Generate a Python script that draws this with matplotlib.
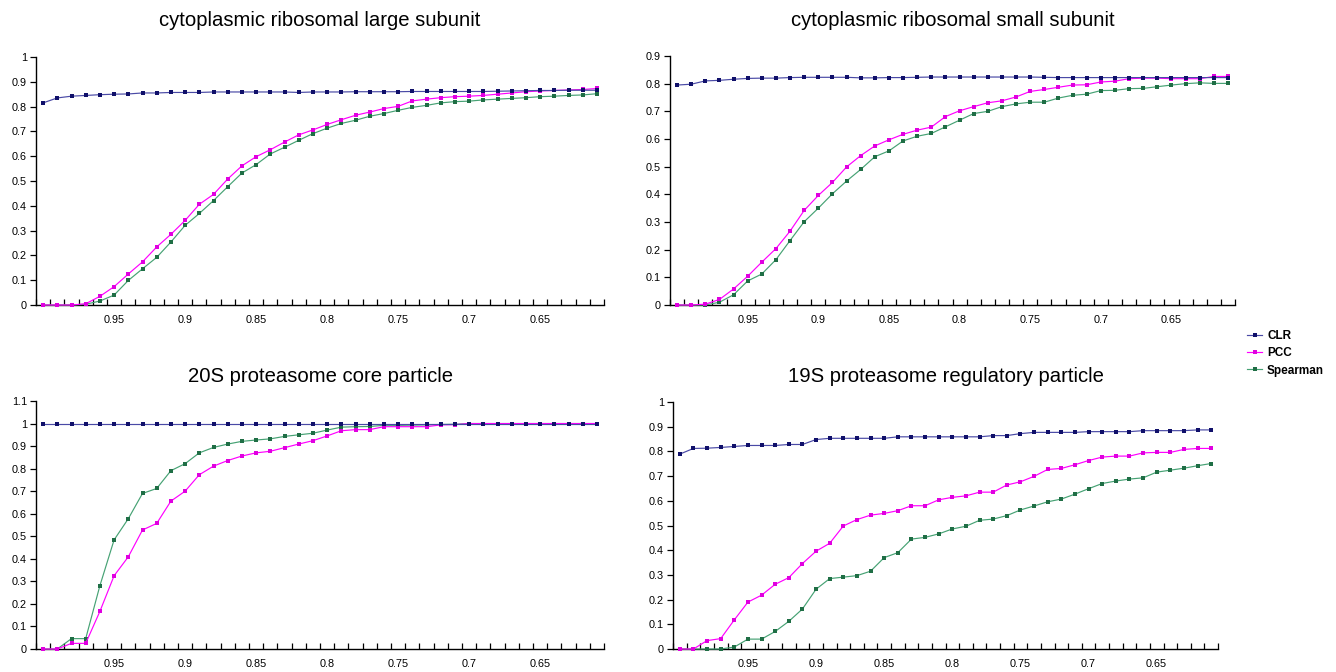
import matplotlib
matplotlib.use("Agg")
import matplotlib.pyplot as plt
from matplotlib.ticker import FixedLocator, NullFormatter, FuncFormatter
from matplotlib.lines import Line2D

plt.rcParams['font.family'] = ['Liberation Sans', 'DejaVu Sans']

# ---------------- data ----------------
thresholds = [round(1.00 - 0.01 * i, 2) for i in range(40)]   # categories 1.00 ... 0.61
label_thresholds = [0.95, 0.9, 0.85, 0.8, 0.75, 0.7, 0.65]

series_names = ["CLR", "PCC", "Spearman"]

titles = ["cytoplasmic ribosomal large subunit",
          "cytoplasmic ribosomal small subunit",
          "20S proteasome core particle",
          "19S proteasome regulatory particle"]

y_max = [1.0, 0.9, 1.1, 1.0]

clr_large = [0.815, 0.835, 0.842, 0.845, 0.848, 0.850, 0.851, 0.855, 0.855, 0.857,
             0.857, 0.857, 0.859, 0.859, 0.859, 0.859, 0.859, 0.859, 0.857, 0.859,
             0.859, 0.859, 0.860, 0.860, 0.860, 0.860, 0.861, 0.861, 0.861, 0.861,
             0.861, 0.861, 0.862, 0.863, 0.864, 0.865, 0.865, 0.866, 0.866, 0.866]
pcc_large = [0, 0, 0, 0.005, 0.035, 0.074, 0.125, 0.174, 0.234, 0.285,
             0.341, 0.406, 0.446, 0.508, 0.561, 0.598, 0.626, 0.657, 0.686, 0.706,
             0.728, 0.747, 0.765, 0.778, 0.792, 0.801, 0.823, 0.830, 0.836, 0.840,
             0.842, 0.845, 0.850, 0.855, 0.860, 0.863, 0.865, 0.867, 0.869, 0.873]
sp_large = [0, 0, 0, 0.003, 0.016, 0.040, 0.099, 0.146, 0.192, 0.254,
            0.321, 0.369, 0.421, 0.477, 0.532, 0.566, 0.609, 0.636, 0.664, 0.691,
            0.713, 0.732, 0.745, 0.761, 0.772, 0.785, 0.797, 0.805, 0.815, 0.820,
            0.822, 0.827, 0.830, 0.833, 0.836, 0.840, 0.842, 0.845, 0.847, 0.852]

clr_small = [0.795, 0.798, 0.810, 0.812, 0.816, 0.819, 0.820, 0.820, 0.822, 0.823,
             0.823, 0.823, 0.823, 0.821, 0.821, 0.822, 0.822, 0.823, 0.824, 0.824,
             0.824, 0.824, 0.824, 0.824, 0.824, 0.824, 0.823, 0.822, 0.822, 0.822,
             0.822, 0.822, 0.822, 0.822, 0.822, 0.822, 0.822, 0.822, 0.822, 0.822]
pcc_small = [0, 0, 0.003, 0.020, 0.058, 0.104, 0.155, 0.204, 0.267, 0.342,
             0.396, 0.443, 0.499, 0.540, 0.575, 0.597, 0.617, 0.632, 0.643, 0.681,
             0.702, 0.717, 0.731, 0.738, 0.752, 0.772, 0.779, 0.787, 0.795, 0.796,
             0.806, 0.809, 0.818, 0.820, 0.820, 0.818, 0.818, 0.818, 0.826, 0.826]
sp_small = [0, 0, 0, 0.010, 0.037, 0.087, 0.112, 0.164, 0.233, 0.301,
            0.350, 0.402, 0.448, 0.490, 0.536, 0.557, 0.593, 0.610, 0.620, 0.644,
            0.668, 0.692, 0.700, 0.717, 0.727, 0.733, 0.733, 0.748, 0.758, 0.762,
            0.775, 0.776, 0.782, 0.783, 0.789, 0.795, 0.800, 0.803, 0.801, 0.801]

clr_20s = [1.0, 1.0, 1.0, 1.0, 1.0, 1.0, 1.0, 1.0, 1.0, 1.0,
           1.0, 1.0, 1.0, 1.0, 1.0, 1.0, 1.0, 1.0, 1.0, 1.0,
           1.0, 1.0, 1.0, 1.0, 1.0, 1.0, 1.0, 1.0, 1.0, 1.0,
           1.0, 1.0, 1.0, 1.0, 1.0, 1.0, 1.0, 1.0, 1.0, 1.0]
pcc_20s = [0, 0, 0.025, 0.025, 0.167, 0.325, 0.409, 0.528, 0.557, 0.656,
           0.700, 0.773, 0.811, 0.836, 0.856, 0.870, 0.877, 0.893, 0.909, 0.924,
           0.945, 0.968, 0.973, 0.973, 0.986, 0.986, 0.986, 0.986, 0.994, 0.995,
           1.0, 1.0, 1.0, 1.0, 1.0, 1.0, 1.0, 1.0, 1.0, 1.0]
sp_20s = [0, 0, 0.046, 0.046, 0.281, 0.484, 0.578, 0.690, 0.712, 0.791,
          0.822, 0.870, 0.894, 0.909, 0.921, 0.927, 0.932, 0.943, 0.950, 0.957,
          0.971, 0.984, 0.986, 0.987, 0.992, 0.992, 0.993, 0.994, 0.996, 0.997,
          1.0, 1.0, 1.0, 1.0, 1.0, 1.0, 1.0, 1.0, 1.0, 1.0]

clr_19s = [0.789, 0.812, 0.813, 0.816, 0.820, 0.824, 0.824, 0.824, 0.828, 0.828,
           0.848, 0.853, 0.853, 0.853, 0.853, 0.853, 0.859, 0.859, 0.859, 0.859,
           0.859, 0.859, 0.859, 0.864, 0.864, 0.872, 0.877, 0.877, 0.877, 0.877,
           0.880, 0.880, 0.880, 0.880, 0.884, 0.884, 0.884, 0.884, 0.887, 0.887]
pcc_19s = [0, 0, 0.034, 0.042, 0.118, 0.190, 0.218, 0.262, 0.289, 0.346,
           0.396, 0.428, 0.498, 0.524, 0.542, 0.549, 0.560, 0.580, 0.580, 0.604,
           0.614, 0.620, 0.635, 0.635, 0.664, 0.677, 0.699, 0.727, 0.731, 0.746,
           0.763, 0.777, 0.781, 0.781, 0.794, 0.796, 0.796, 0.808, 0.812, 0.812]
sp_19s = [0, 0, 0, 0, 0.008, 0.040, 0.040, 0.071, 0.112, 0.162,
          0.242, 0.285, 0.291, 0.297, 0.315, 0.370, 0.390, 0.445, 0.452, 0.466,
          0.486, 0.497, 0.521, 0.526, 0.540, 0.563, 0.579, 0.596, 0.607, 0.627,
          0.649, 0.670, 0.680, 0.688, 0.693, 0.716, 0.724, 0.732, 0.742, 0.751]

panel_data = [(clr_large, pcc_large, sp_large),
              (clr_small, pcc_small, sp_small),
              (clr_20s, pcc_20s, sp_20s),
              (clr_19s, pcc_19s, sp_19s)]

# ---------------- style ----------------
line_colors = ['#4a4aa6', '#ff00ff', '#46a274']
marker_colors = ['#10106a', '#e000e0', '#1f6e45']

W, H = 1336, 672
fig = plt.figure(figsize=(W / 100, H / 100), dpi=100)

# pixel boxes: left, right, top(y=max), bottom(y=0), title y
boxes = [(36, 604, 57, 305, 21),
         (670, 1235, 56, 305, 20),
         (36, 604, 401, 649, 377),
         (673, 1218, 402, 649, 377)]

n = len(thresholds)
xpos = list(range(n))
label_pos = [thresholds.index(t) for t in label_thresholds]

for k, ax_box in enumerate(boxes):
    l, r, t, b, ty = ax_box
    ax = fig.add_axes([l / W, 1 - b / H, (r - l) / W, (b - t) / H])
    for s, vals in enumerate(panel_data[k]):
        ax.plot(xpos, vals, color=line_colors[s], lw=0.85, marker='s', ms=2.3,
                mfc=marker_colors[s], mec=marker_colors[s], mew=0, clip_on=False,
                zorder=3 + (2 - s) * 0.1)
    ax.set_xlim(-0.5, n - 0.5)
    ax.set_ylim(0, y_max[k])
    for sp in ['top', 'right']:
        ax.spines[sp].set_visible(False)
    for sp in ['left', 'bottom']:
        ax.spines[sp].set_linewidth(1.0)
        ax.spines[sp].set_color('black')
    # x axis: boundaries as minor ticks, labels at category centres
    ax.xaxis.set_major_locator(FixedLocator(label_pos))
    ax.set_xticklabels([f"{v:g}" for v in label_thresholds])
    ax.xaxis.set_minor_locator(FixedLocator([i - 0.5 for i in range(n + 1)]))
    ax.xaxis.set_minor_formatter(NullFormatter())
    ax.tick_params(axis='x', which='major', length=0, pad=7.5, labelsize=7.8)
    ax.tick_params(axis='x', which='minor', direction='in', length=4, width=0.9)
    # y axis
    yt = [round(0.1 * i, 1) for i in range(int(round(y_max[k] * 10)) + 1)]
    ax.yaxis.set_major_locator(FixedLocator(yt))
    ax.yaxis.set_major_formatter(FuncFormatter(lambda v, p: f"{v:g}"))
    ax.tick_params(axis='y', direction='out', length=4, width=0.9, pad=2.5, labelsize=7.8)
    fig.text((l + r) / 2 / W, 1 - ty / H, titles[k], ha='center', va='center',
             fontsize=14.6)

handles = [Line2D([0], [0], color=line_colors[s], lw=0.85, marker='s', ms=2.3,
                  mfc=marker_colors[s], mec=marker_colors[s], mew=0)
           for s in range(3)]
fig.legend(handles, series_names, loc='upper left',
           bbox_to_anchor=(1247 / W, 1 - 330 / H), frameon=False,
           prop={'weight': 'bold', 'size': 8.5}, handlelength=1.3,
           handletextpad=0.4, labelspacing=0.45, borderpad=0, borderaxespad=0)

fig.savefig("out.png", dpi=100)
